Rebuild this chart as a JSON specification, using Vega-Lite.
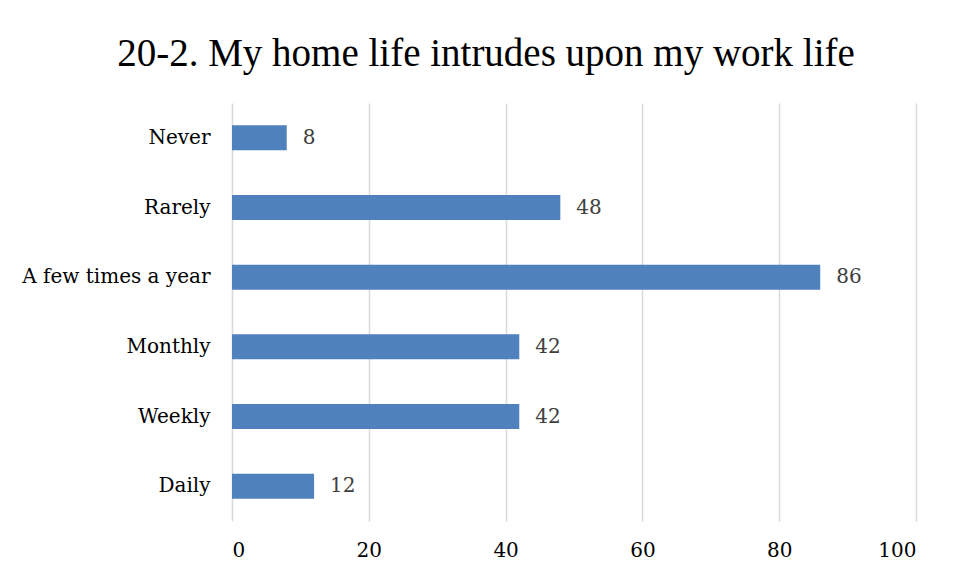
{
  "$schema": "https://vega.github.io/schema/vega-lite/v6.json",
  "width": 684,
  "height": 418,
  "autosize": {"type": "none"},
  "padding": {"left": 232, "top": 103, "right": 42, "bottom": 57},
  "background": "white",
  "title": {
    "text": "20-2. My home life intrudes upon my work life",
    "font": "Liberation Serif",
    "fontSize": 39,
    "fontWeight": "normal",
    "color": "#000000",
    "anchor": "middle",
    "dx": -88,
    "offset": 29
  },
  "data": {
    "values": [
      {"category": "Never", "value": 8},
      {"category": "Rarely", "value": 48},
      {"category": "A few times a year", "value": 86},
      {"category": "Monthly", "value": 42},
      {"category": "Weekly", "value": 42},
      {"category": "Daily", "value": 12}
    ]
  },
  "encoding": {
    "y": {
      "field": "category",
      "type": "nominal",
      "sort": null,
      "scale": {"paddingInner": 0.64, "paddingOuter": 0.32},
      "axis": {
        "title": null,
        "domain": false,
        "ticks": false,
        "labelFont": "DejaVu Serif",
        "labelFontSize": 20,
        "labelColor": "#000000",
        "labelPadding": 22,
        "labelLimit": 400
      }
    },
    "x": {
      "field": "value",
      "type": "quantitative",
      "scale": {"domain": [0, 100]},
      "axis": {
        "title": null,
        "values": [0, 20, 40, 60, 80, 100],
        "domain": false,
        "ticks": false,
        "grid": true,
        "gridColor": "#d9d9d9",
        "gridWidth": 1.5,
        "labelFont": "DejaVu Serif",
        "labelFontSize": 20,
        "labelColor": "#000000",
        "labelPadding": 19
      }
    }
  },
  "layer": [
    {"mark": {"type": "bar", "color": "#4F81BD"}},
    {
      "mark": {"type": "text", "align": "left", "dx": 16, "font": "DejaVu Serif", "fontSize": 20, "color": "#404040"},
      "encoding": {"text": {"field": "value", "type": "quantitative"}}
    }
  ],
  "config": {"view": {"stroke": null}}
}
